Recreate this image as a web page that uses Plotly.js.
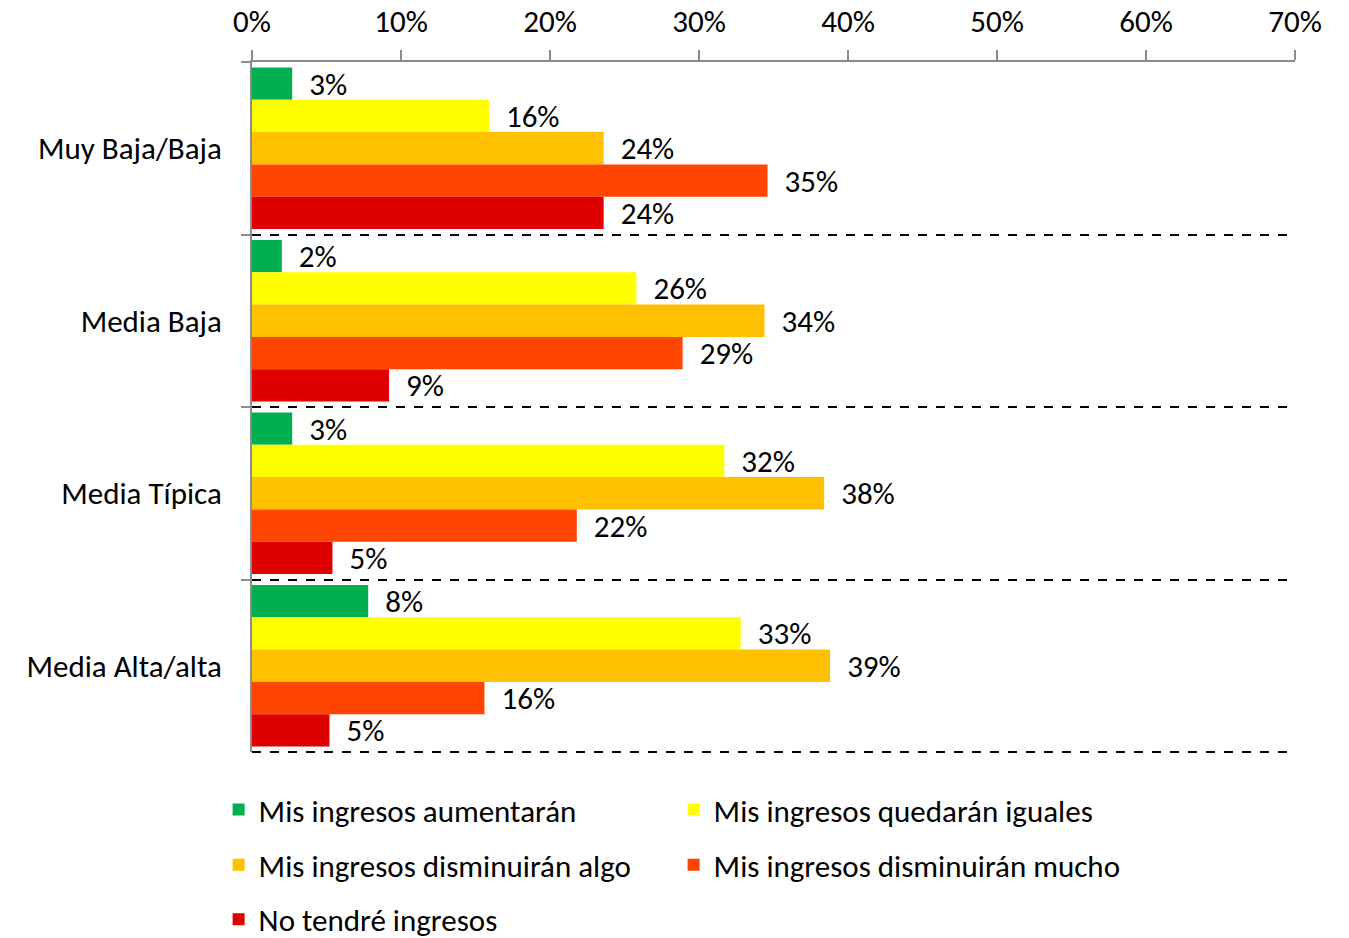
<!DOCTYPE html>
<html>
<head>
<meta charset="utf-8">
<script src="https://cdn.plot.ly/plotly-3.0.1.min.js"></script>
<style>html,body{margin:0;padding:0;background:#fff;}#chart{width:1349px;height:938px;}</style>
</head>
<body>
<div id="chart"></div>
<script>
const categories = ["Muy Baja/Baja", "Media Baja", "Media Típica", "Media Alta/alta"];
const seriesNames = [
  "Mis ingresos aumentarán",
  "Mis ingresos quedarán iguales",
  "Mis ingresos disminuirán algo",
  "Mis ingresos disminuirán mucho",
  "No tendré ingresos"
];
const aumentaran = [0.027, 0.020, 0.027, 0.078];
const iguales = [0.159, 0.258, 0.317, 0.328];
const disminuiranAlgo = [0.236, 0.344, 0.384, 0.388];
const disminuiranMucho = [0.346, 0.289, 0.218, 0.156];
const noTendre = [0.236, 0.092, 0.054, 0.052];
const xTicks = [0, 0.1, 0.2, 0.3, 0.4, 0.5, 0.6, 0.7];

const seriesValues = [aumentaran, iguales, disminuiranAlgo, disminuiranMucho, noTendre];
const colors = ["#00B050", "#FFFF00", "#FFC000", "#FF4500", "#DF0000"];
const legendIds = ["legend", "legend", "legend2", "legend2", "legend3"];
const FONT = "Carlito, Lato, sans-serif";
const FS = 31;

const traces = seriesValues.map((vals, i) => ({
  type: "bar",
  orientation: "h",
  name: seriesNames[i],
  y: categories,
  x: vals,
  marker: { color: colors[i] },
  texttemplate: "\u00a0\u00a0%{x:.0%}",
  textposition: "outside",
  constraintext: "none",
  cliponaxis: false,
  textfont: { family: FONT, size: FS, color: "#000" },
  hoverinfo: "x+name",
  legend: legendIds[i]
}));

const legendBase = {
  orientation: "h",
  xanchor: "left",
  yanchor: "middle",
  x: -0.032,
  entrywidth: 410,
  entrywidthmode: "pixels",
  font: { family: FONT, size: FS, color: "#000" },
  bgcolor: "rgba(0,0,0,0)",
  traceorder: "normal"
};

const layout = {
  width: 1349,
  height: 938,
  margin: { l: 252, r: 54, t: 62, b: 186, autoexpand: false },
  paper_bgcolor: "#fff",
  plot_bgcolor: "#fff",
  font: { family: FONT, size: FS, color: "#000" },
  barmode: "group",
  bargap: 0.065,
  bargroupgap: 0,
  showlegend: true,
  legend: Object.assign({}, legendBase, { y: -0.084 }),
  legend2: Object.assign({}, legendBase, { y: -0.164 }),
  legend3: Object.assign({}, legendBase, { y: -0.243 }),
  shapes: [{
    type: "line", xref: "paper", yref: "paper",
    x0: 0, x1: 1, y0: 0, y1: 0,
    line: { color: "#000", width: 2, dash: "dash" }
  }],
  xaxis: {
    side: "top",
    range: [0, 0.7],
    tickvals: xTicks,
    tickformat: ".0%",
    ticks: "outside",
    ticklen: 10,
    tickwidth: 2,
    tickcolor: "#8c8c8c",
    showline: true,
    linecolor: "#8c8c8c",
    linewidth: 2,
    showgrid: false,
    zeroline: false,
    ticklabelstandoff: 6,
    tickfont: { family: FONT, size: FS, color: "#000" },
    fixedrange: true
  },
  yaxis: {
    type: "category",
    autorange: "reversed",
    tickson: "boundaries",
    ticks: "outside",
    ticklen: 9,
    tickwidth: 2,
    tickcolor: "#8c8c8c",
    showline: true,
    linecolor: "#8c8c8c",
    linewidth: 2,
    showgrid: true,
    gridcolor: "#000",
    gridwidth: 2,
    griddash: "dash",
    zeroline: false,
    ticklabelstandoff: 22,
    tickfont: { family: FONT, size: FS, color: "#000" },
    fixedrange: true
  }
};

Plotly.newPlot("chart", traces, layout, { displayModeBar: false, staticPlot: true });
</script>
</body>
</html>
